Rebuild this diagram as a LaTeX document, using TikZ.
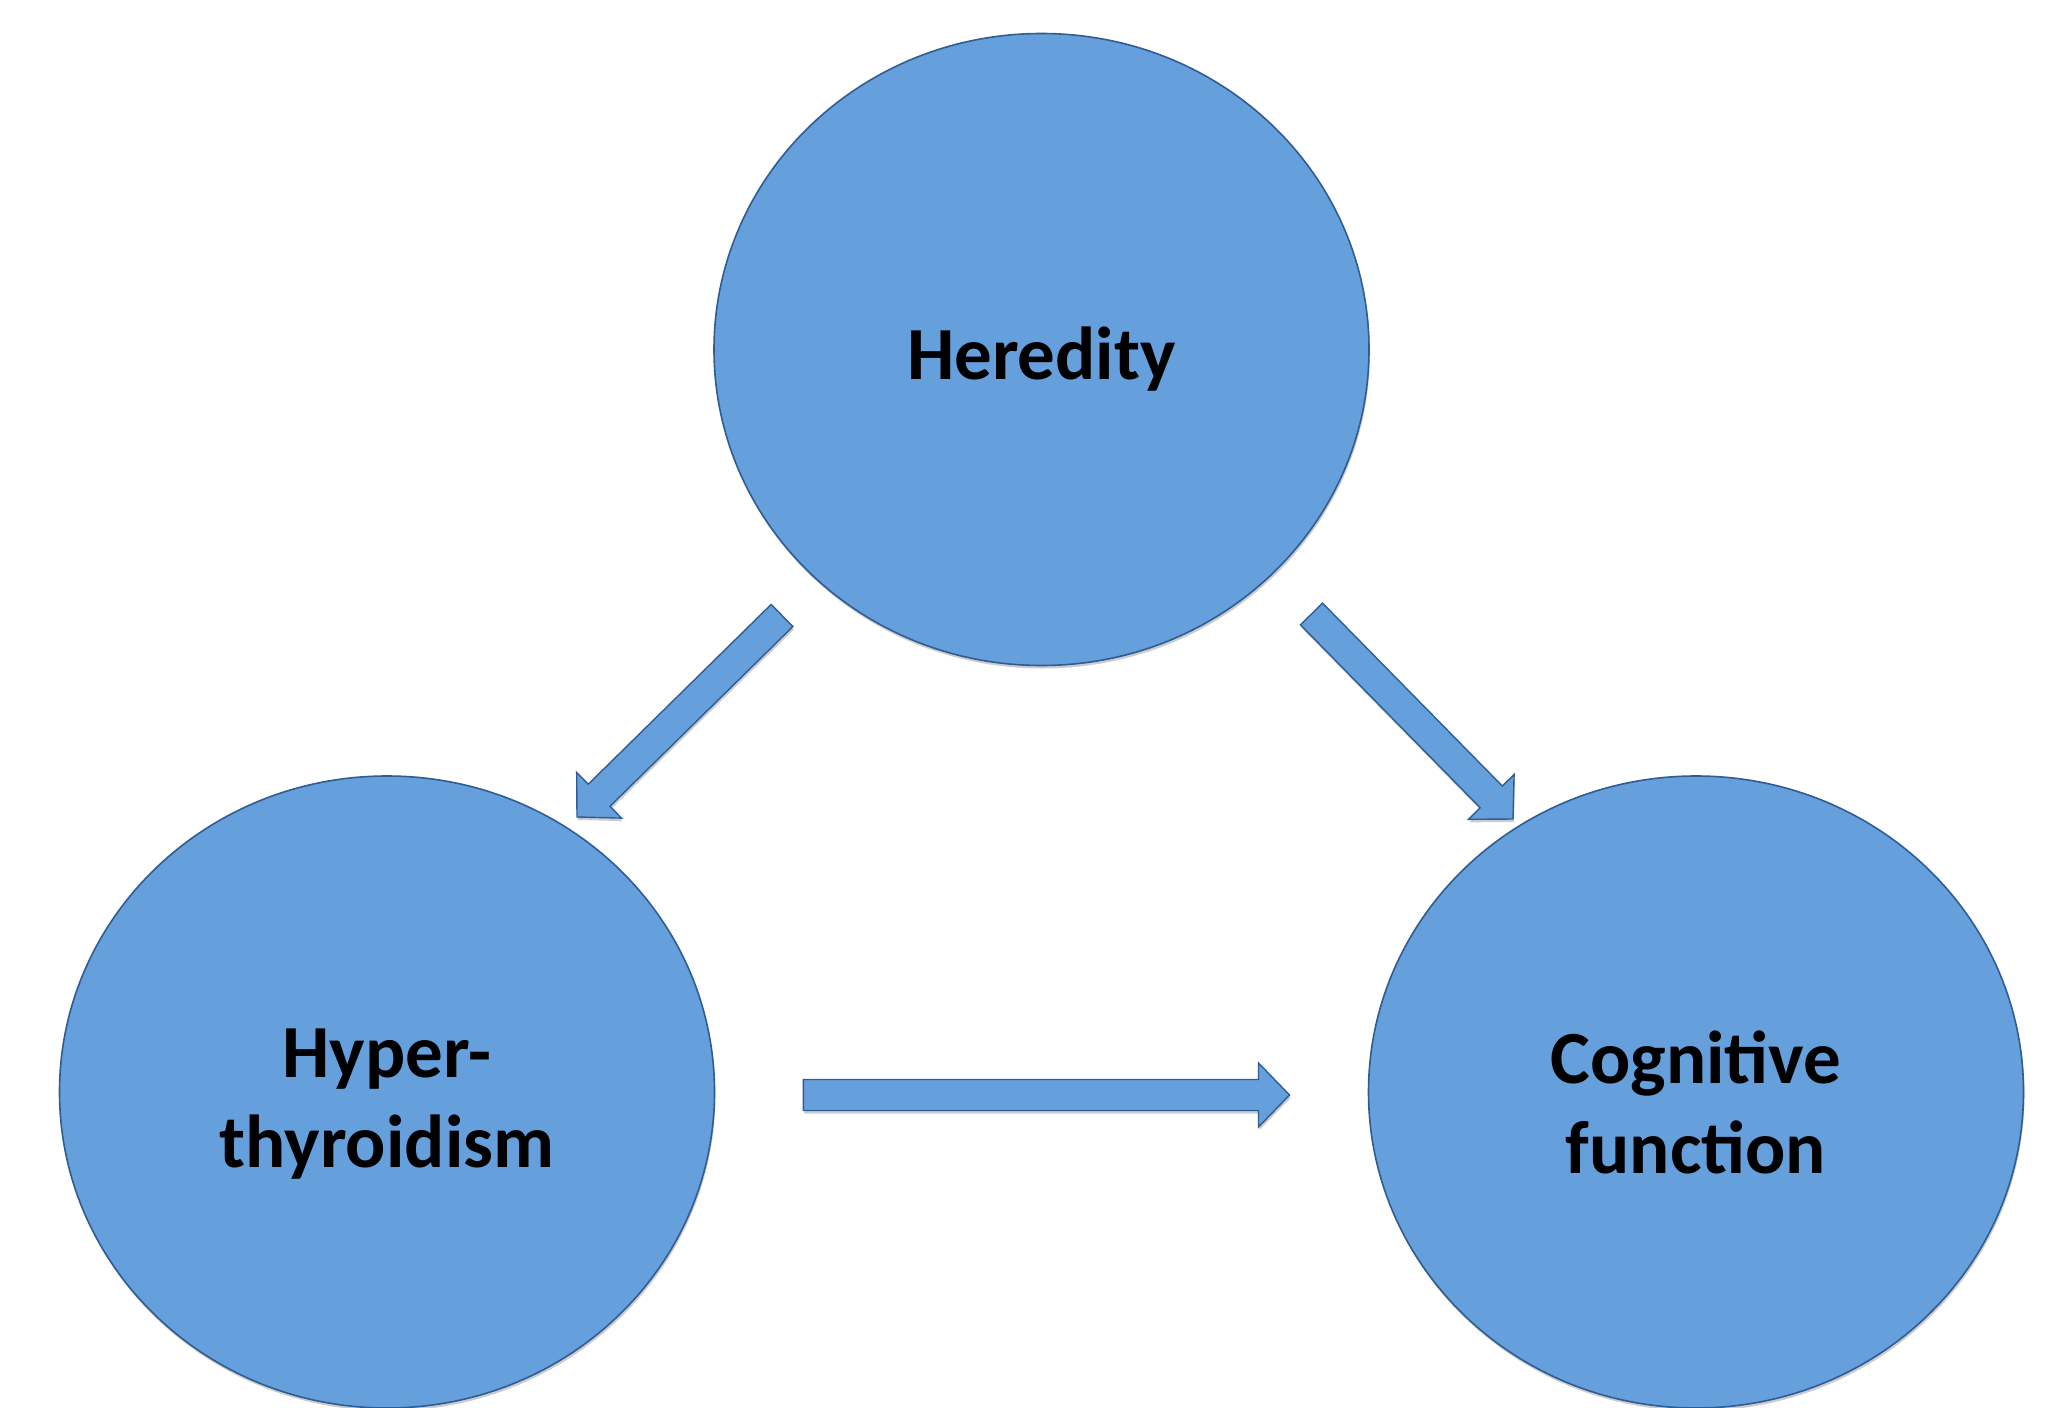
\documentclass[tikz,border=0pt]{standalone}
\usepackage{fontspec}
\setmainfont{Carlito}
\usetikzlibrary{shapes.geometric,calc,shadows}

\definecolor{ballfill}{RGB}{101,160,220}
\definecolor{balledge}{RGB}{48,92,148}

\tikzset{
  ball/.style={ellipse, draw=balledge, fill=ballfill, line width=1.6pt, inner sep=0pt,
    minimum width=655pt, minimum height=632pt,
    drop shadow={shadow xshift=1pt, shadow yshift=-3pt, opacity=.2, fill=black}},
  balltext/.style={align=center, inner sep=0pt, font=\bfseries\fontsize{75}{90}\selectfont},
  arrowbox/.style={draw=balledge, fill=ballfill, line width=1.4pt, line join=miter,
    drop shadow={shadow xshift=1pt, shadow yshift=-3pt, opacity=.2, fill=black}}
}

% block arrow from tail coordinate #1 to tip coordinate #2
\newcommand{\blockarrow}[2]{
  \coordinate (neck) at ($(#2)!31pt!(#1)$);
  \path[arrowbox] ($(#1)!15.5pt!90:(#2)$) -- ($(neck)!15.5pt!90:(#2)$)
    -- ($(neck)!32pt!90:(#2)$) -- (#2) -- ($(neck)!32pt!-90:(#2)$)
    -- ($(neck)!15.5pt!-90:(#2)$) -- ($(#1)!15.5pt!-90:(#2)$) -- cycle;
}

\begin{document}
\begin{tikzpicture}[x=1pt, y=-1pt]
\useasboundingbox (0,0) rectangle (2056,1408);

\node[ball] (heredity) at (1041.5,349.5) {};
\node[ball] (hyper) at (387,1092) {};
\node[ball] (cognitive) at (1696,1092) {};

\node[balltext] (heredityText) at ([yshift=-10pt]heredity.center) {Heredity};
\node[balltext] (hyperText) at ([yshift=-12pt]hyper.center) {Hyper-\\thyroidism};
\node[balltext] (cognitiveText) at ([yshift=-10pt]cognitive.center) {Cognitive\\function};

\coordinate (herLtail) at (782,615.5);
\coordinate (herLtip) at (577,817);
\coordinate (herRtail) at (1311.5,614);
\coordinate (herRtip) at (1513,819);
\coordinate (hypTail) at (803.4,1095);
\coordinate (hypTip) at (1289.5,1095);

\blockarrow{herLtail}{herLtip}
\blockarrow{herRtail}{herRtip}
\blockarrow{hypTail}{hypTip}
\end{tikzpicture}
\end{document}
